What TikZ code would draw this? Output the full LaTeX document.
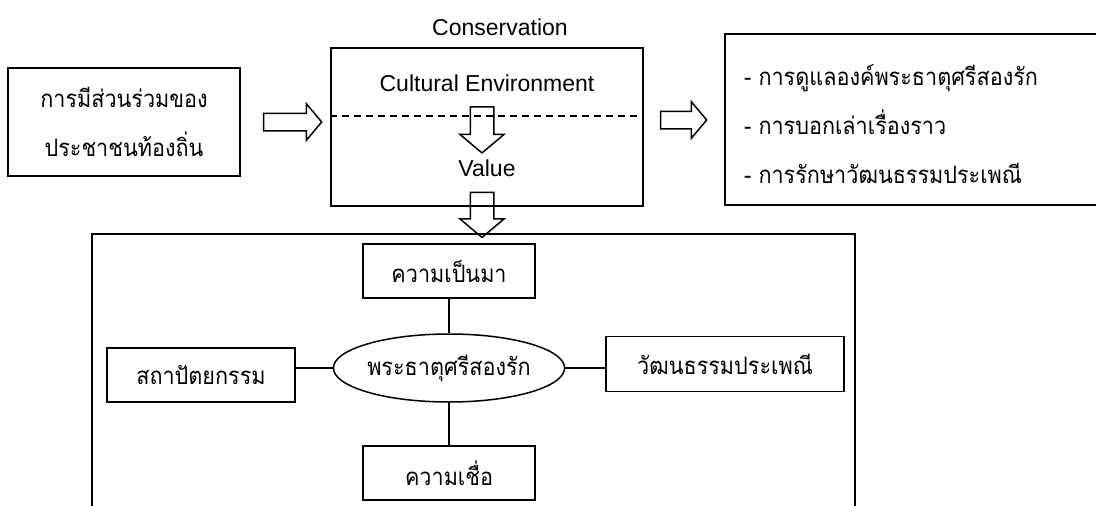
\documentclass[tikz,border=0pt]{standalone}
\usepackage{fontspec}
\setmainfont{Liberation Sans}
\newfontfamily\thaifont[Script=Thai, FakeStretch=0.9]{Loma}
\usetikzlibrary{shapes.geometric,shapes.arrows}

\begin{document}
\begin{tikzpicture}[x=1pt, y=-1pt, line width=1.5pt,
    thai/.style={font=\thaifont\fontsize{24}{49}\selectfont},
    latin/.style={font=\fontsize{23}{28}\selectfont},
    box/.style={draw, rectangle, inner sep=0pt, thai},
    blockarrow/.style={draw, single arrow, inner sep=0pt, minimum width=35pt,
        single arrow head extend=9.5pt, single arrow tip angle=100},
    downarrow/.style={blockarrow, shape border rotate=270, minimum width=43pt,
        single arrow head extend=10.5pt, text height=0pt, text depth=0pt}]
    \useasboundingbox (0,0) rectangle (1096,506);

    % input
    \node [box, minimum width=232pt, minimum height=108pt, align=center] (people) at (124,122)
        {การมีส่วนร่วมของ\\ประชาชนท้องถิ่น};
    \node [blockarrow, minimum height=58pt, text height=16pt] (inarrow) at (289,122) {};

    % conservation box
    \node [draw, rectangle, minimum width=312pt, minimum height=158pt] (cons) at (487,127) {};
    \node [latin] (title) at (500,27) {Conservation};
    \node [latin] (culture) at (487,83) {Cultural Environment};
    \node [latin] (value) at (487,168) {Value};
    \draw [dash pattern=on 7pt off 5pt, line width=1.3pt] ([yshift=11pt]cons.west) -- ([yshift=11pt]cons.east);
    \node [downarrow, minimum height=46pt, text width=22pt] (midarrow) at (482,125) {};
    \node [downarrow, minimum height=45pt, text width=22pt] (downarr) at (482,210) {};

    % output
    \node [blockarrow, minimum height=46pt, text height=16pt] (outarrow) at (680,120) {};
    \draw (1110,34) -| (725,205) -- (1110,205);
    \node [thai, align=left, anchor=west] (acts) at (740,124)
        {- การดูแลองค์พระธาตุศรีสองรัก\\- การบอกเล่าเรื่องราว\\- การรักษาวัฒนธรรมประเพณี};

    % value box
    \draw (92,520) |- (855,234) -- (855,520);
    \node [draw, ellipse, inner sep=0pt, minimum width=214pt, minimum height=68pt, thai] (stupa) at (449,368)
        {พระธาตุศรีสองรัก};
    \node [box, minimum width=172pt, minimum height=54pt] (history) at (449,271) {ความเป็นมา};
    \node [box, minimum width=172pt, minimum height=54pt] (belief) at (449,473) {ความเชื่อ};
    \node [box, minimum width=188pt, minimum height=54pt] (arch) at (201,375) {สถาปัตยกรรม};
    \node [box, minimum width=238pt, minimum height=55pt] (trad) at (725,364) {วัฒนธรรมประเพณี};

    \draw (history) -- (stupa);
    \draw (stupa) -- (belief);
    \draw (stupa.west) -- (stupa.west -| arch.east);
    \draw (stupa.east) -- (stupa.east -| trad.west);
\end{tikzpicture}
\end{document}
